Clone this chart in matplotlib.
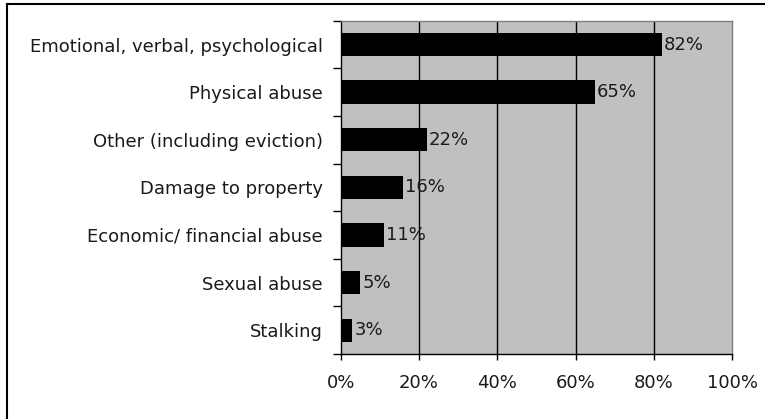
import matplotlib.pyplot as plt
import numpy as np
from matplotlib.lines import Line2D

categories = ['Emotional, verbal, psychological', 'Physical abuse',
              'Other (including eviction)', 'Damage to property',
              'Economic/ financial abuse', 'Sexual abuse', 'Stalking']
values = [82, 65, 22, 16, 11, 5, 3]
x_ticks = [0, 20, 40, 60, 80, 100]

plt.rcParams['font.family'] = ['DejaVu Sans']
fs = 13
txt_color = '#1a1a1a'

fig = plt.figure(figsize=(7.65, 4.19), dpi=100)
ax = fig.add_axes([340.7 / 765, 1 - 354 / 419, (732.3 - 340.7) / 765, (354 - 20.7) / 419])
ax.set_facecolor('#c0c0c0')

y = np.arange(len(categories))
ax.barh(y, values, height=0.49, color='black', zorder=3)
for yi, v in zip(y, values):
    ax.text(v + 0.5, yi, f'{v}%', va='center', ha='left', fontsize=fs,
            color=txt_color, zorder=4)

ax.set_xlim(0, 100)
ax.set_ylim(len(categories) - 0.5, -0.5)

ax.set_xticks(x_ticks)
ax.set_xticklabels([f'{t}%' for t in x_ticks], fontsize=fs, color=txt_color)
ax.tick_params(axis='x', direction='out', length=4.5, width=1, pad=10, color='black')

# tick marks sit on the category boundaries, labels on the centres
ax.set_yticks(np.arange(-0.5, len(categories)), labels=[])
ax.tick_params(axis='y', which='major', direction='out', length=5.5, width=1, color='black')
ax.set_yticks(y, labels=categories, minor=True, color=txt_color)
ax.tick_params(axis='y', which='minor', length=0, pad=13, labelsize=fs)

for t in x_ticks[1:-1]:
    ax.axvline(t, color='black', lw=1, zorder=2)

ax.spines['left'].set_color('black')
ax.spines['bottom'].set_color('black')
ax.spines['top'].set_color('#808080')
ax.spines['right'].set_color('#808080')
for s in ax.spines.values():
    s.set_linewidth(1)

# outer frame, only top and left edges
fig.add_artist(Line2D([7 / 765, 7 / 765], [0, 1 - 4.5 / 419], color='black', lw=1.5, transform=fig.transFigure))
fig.add_artist(Line2D([7 / 765, 1], [1 - 4.5 / 419, 1 - 4.5 / 419], color='black', lw=1.5, transform=fig.transFigure))

fig.savefig('out.png', dpi=100)
